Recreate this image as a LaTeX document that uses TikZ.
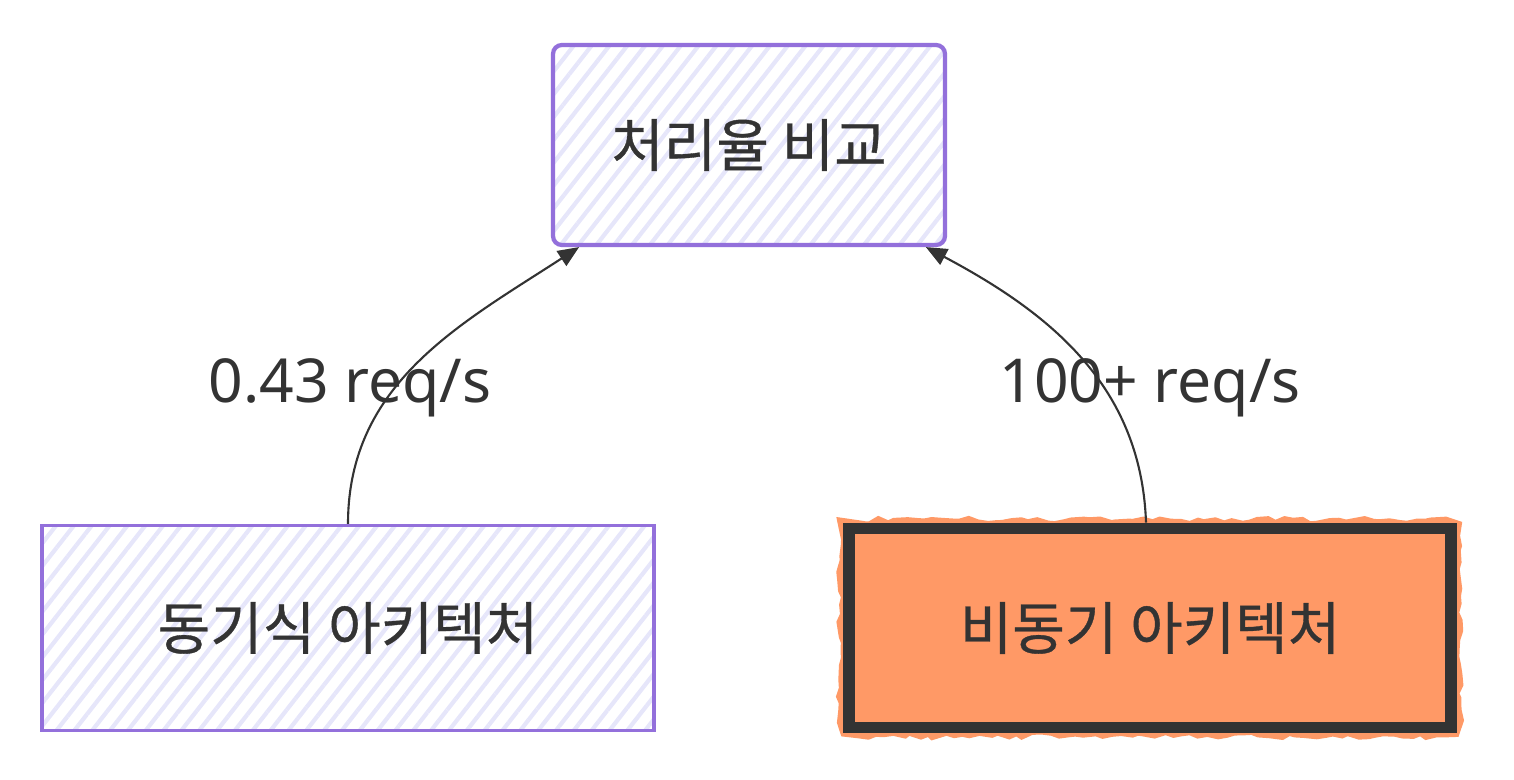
\documentclass[tikz,border=0pt]{standalone}
\usepackage{fontspec}
\setmainfont{Noto Sans CJK KR}[FakeBold=0.6]
\newfontfamily\latinfont{Noto Sans}
\usetikzlibrary{arrows.meta,patterns.meta,decorations.pathmorphing}
\definecolor{ink}{HTML}{333333}
\definecolor{lavender}{HTML}{9370DB}
\definecolor{hatch}{HTML}{E6E6FA}
\definecolor{tangerine}{HTML}{FF9966}

\begin{document}
\begin{tikzpicture}[
  x=0.02cm, y=0.02cm,
  >={Triangle[length=12pt,width=10pt]},
  box/.style={draw=lavender, line width=1.8pt, text=ink, align=center,
    pattern={Lines[angle=52,distance=8pt,line width=2.4pt]}, pattern color=hatch,
    font=\fontsize{32.5}{38}\selectfont},
  hot/.style={draw=ink, fill=tangerine, line width=6.8pt, text=ink, align=center,
    font=\fontsize{32.5}{38}\selectfont,
    preaction={draw=tangerine, line width=11pt, decorate,
      decoration={random steps, segment length=5pt, amplitude=1.5pt}}},
  rate/.style={text=ink, font=\latinfont\fontsize{34.5}{40}\selectfont},
  line/.style={->, draw=ink, line width=1.2pt}
]
\useasboundingbox (0,0) rectangle (1514,-780);

% compared result on top, the two architectures below
\node[box, rounded corners=5pt, line width=2.4pt, minimum width=7.84cm, minimum height=4cm] (cmp) at (749,-145) {처리율 비교};
\node[box, minimum width=12.24cm, minimum height=4.1cm] (sync) at (348,-628) {동기식 아키텍처};
\node[hot, minimum width=12.06cm, minimum height=3.98cm] (async) at (1150,-628) {비동기 아키텍처};

\draw[line] (sync.north) to[out=90, in=-147] (cmp.211);
\draw[line] ([xshift=-0.08cm]async.north) to[out=92, in=-28] (cmp.-30);

\node[rate] (r1) at (350,-388) {0.43 req/s};
\node[rate] (r2) at (1150,-388) {100+ req/s};

\end{tikzpicture}
\end{document}
